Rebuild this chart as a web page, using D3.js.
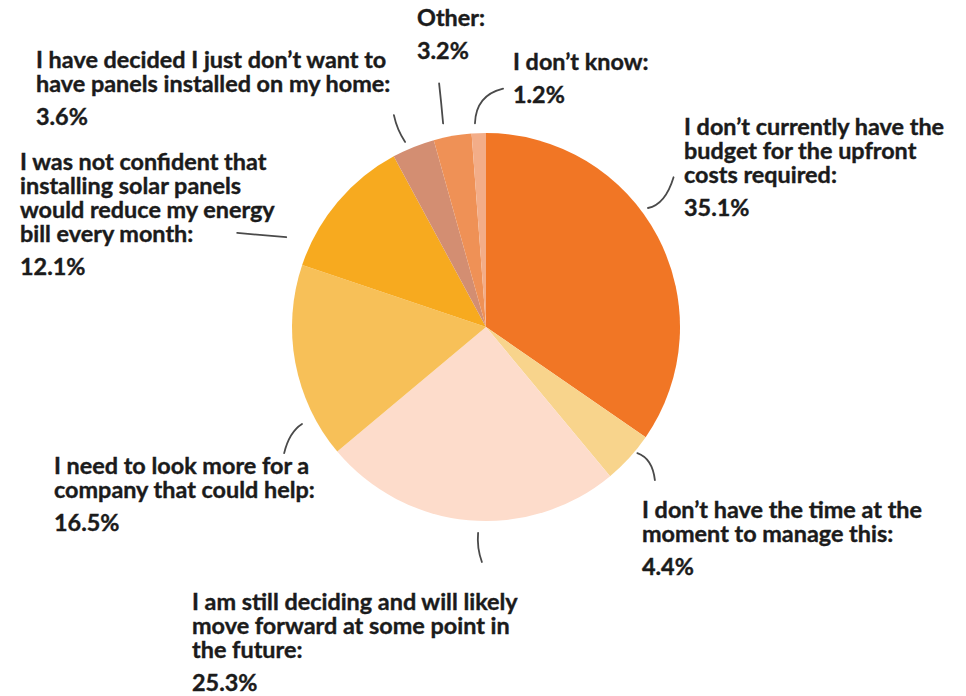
<!DOCTYPE html>
<html>
<head>
<meta charset="utf-8">
<script src="https://cdn.jsdelivr.net/npm/d3@7"></script>
<style>
  html, body { margin: 0; padding: 0; background: #ffffff; }
  svg { display: block; }
  .lbl { font-family: Lato, "Noto Sans", sans-serif; font-weight: 700; font-size: 23.4px; fill: #1b1b1b; stroke: #1b1b1b; stroke-width: 0.4px; }
</style>
</head>
<body>
<svg id="chart" width="966" height="696"></svg>
<script>
// Survey answers, clockwise from 12 o'clock
const categories = [
  "I don’t currently have the budget for the upfront costs required:",
  "I don’t have the time at the moment to manage this:",
  "I am still deciding and will likely move forward at some point in the future:",
  "I need to look more for a company that could help:",
  "I was not confident that installing solar panels would reduce my energy bill every month:",
  "I have decided I just don’t want to have panels installed on my home:",
  "Other:",
  "I don’t know:"
];
const values = [35.1, 4.4, 25.3, 16.5, 12.1, 3.6, 3.2, 1.2];
const valueLabels = ["35.1%", "4.4%", "25.3%", "16.5%", "12.1%", "3.6%", "3.2%", "1.2%"];

// Wrapped label lines for each answer
const labelLines = [
  ["I don’t currently have the", "budget for the upfront", "costs required:"],
  ["I don’t have the time at the", "moment to manage this:"],
  ["I am still deciding and will likely", "move forward at some point in", "the future:"],
  ["I need to look more for a", "company that could help:"],
  ["I was not confident that", "installing solar panels", "would reduce my energy", "bill every month:"],
  ["I have decided I just don’t want to", "have panels installed on my home:"],
  ["Other:"],
  ["I don’t know:"]
];

const sliceColors = ["#f17625", "#f8d48c", "#fddccb", "#f7c058", "#f7aa1f", "#d38e72", "#ef9156", "#f3ad88"];

// Layout
const cx = 486, cy = 327, radius = 194;
const lineH = 24, pctGap = 33;
// Label anchor (left x, first baseline)
const labelPos = [
  [684, 135], [642, 518], [192, 610], [54, 474],
  [20, 170], [36, 68], [417, 26], [513, 70]
];
// Leader curves in polar form around the pie centre: [angleDeg, radius] for start, control, end
const leaders = [
  [[53.7, 201], [55.7, 217], [51.4, 240]],
  [[129.8, 197], [128.3, 212], [132.2, 228]],
  [[182.2, 206], [182.4, 221], [181.0, 235]],
  [[242.2, 208], [241.9, 223], [238.0, 238]],
  [[294.2, 219], [292.3, 242], [290.7, 266]],
  [[336.4, 202], [335.7, 216], [336.5, 231]],
  [[348.1, 208], [348.7, 228], [349.1, 248]],
  [[356.9, 204], [357.5, 232], [4.1, 239]]
];

const svg = d3.select("#chart");
const g = svg.append("g").attr("transform", `translate(${cx},${cy})`);

const pie = d3.pie().sort(null).value(d => d);
const arc = d3.arc().innerRadius(0).outerRadius(radius);

g.selectAll("path.slice")
  .data(pie(values))
  .join("path")
  .attr("class", "slice")
  .attr("d", arc)
  .attr("fill", (d, i) => sliceColors[i]);

// Leader lines
const rad = a => a * Math.PI / 180;
g.selectAll("path.leader")
  .data(leaders)
  .join("path")
  .attr("class", "leader")
  .attr("fill", "none")
  .attr("stroke", "#4a4a4a")
  .attr("stroke-width", 1.8)
  .attr("stroke-linecap", "round")
  .attr("d", d => {
    const [s, c, e] = d.map(([a, r]) => d3.pointRadial(rad(a), r));
    const p = d3.path();
    p.moveTo(s[0], s[1]);
    p.quadraticCurveTo(c[0], c[1], e[0], e[1]);
    return p.toString();
  });

// Labels: wrapped answer text as one block, value below it
const labels = svg.selectAll("g.label")
  .data(categories.map((c, i) => ({ lines: labelLines[i], pct: valueLabels[i], pos: labelPos[i] })))
  .join("g")
  .attr("class", "label");

labels.each(function(d) {
  const sel = d3.select(this);
  const [x, y] = d.pos;
  const t = sel.append("text").attr("class", "lbl").attr("x", x).attr("y", y);
  d.lines.forEach((line, k) => {
    t.append("tspan").attr("x", x).attr("dy", k === 0 ? 0 : lineH).text(line);
  });
  sel.append("text").attr("class", "lbl")
    .attr("x", x)
    .attr("y", y + (d.lines.length - 1) * lineH + pctGap)
    .text(d.pct);
});
</script>
</body>
</html>
